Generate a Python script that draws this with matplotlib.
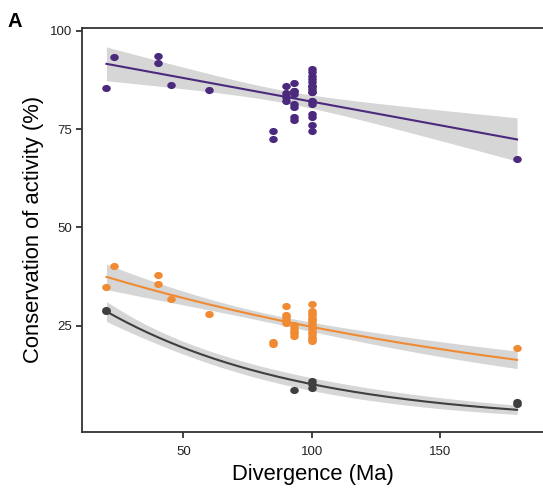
import numpy as np
import matplotlib
matplotlib.use("Agg")
import matplotlib.pyplot as plt
from matplotlib.path import Path

plt.rcParams["font.family"] = ["Liberation Sans", "DejaVu Sans"]

# purple group (linear fit)
purple_x = [20, 23, 40, 40, 45, 60, 85, 85,
            90, 90, 90, 90,
            93, 93, 93, 93, 93, 93, 93, 93,
            100, 100, 100, 100, 100, 100, 100, 100, 100, 100, 100, 100, 100, 100,
            100, 100, 100,
            180]
purple_y = [85.5, 93.4, 93.7, 91.9, 86.3, 85.0, 74.6, 72.5,
            86.0, 84.1, 83.1, 82.2,
            86.7, 84.7, 84.7, 83.9, 81.4, 80.7, 78.0, 77.3,
            90.3, 89.4, 88.6, 87.7, 86.9, 86.0, 85.2, 84.3, 82.2, 81.4, 78.8, 78.1, 76.1, 74.4,
            86.0, 84.3, 82.2,
            67.4]

# orange group (exponential fit)
orange_x = [20, 23, 40, 40, 45, 60, 85, 85,
            90, 90, 90, 90, 90,
            93, 93, 93, 93, 93,
            100, 100, 100, 100, 100, 100, 100, 100, 100, 100, 100, 100, 100, 100, 100,
            180]
orange_y = [34.7, 40.1, 37.9, 35.5, 31.8, 28.0, 20.8, 20.3,
            29.9, 27.8, 27.1, 26.3, 25.6,
            25.2, 24.4, 23.6, 23.0, 22.4,
            30.4, 28.8, 28.2, 27.6, 27.0, 26.4, 25.8, 25.2, 24.6, 24.0, 23.4, 22.8, 22.2, 21.6, 21.2,
            19.2]

# grey group (exponential fit)
grey_x = [20, 20, 93, 100, 100, 100, 180, 180]
grey_y = [29.0, 28.7, 8.7, 10.8, 10.2, 9.2, 5.6, 5.0]

x_ticks = [50, 100, 150]
y_ticks = [25, 50, 75, 100]

purple = "#4b2a7d"
orange = "#f08a33"
grey = "#3f3f3f"
ribbon = "#d6d6d6"


def t_quantile(df, z=1.959964):
    # Cornish-Fisher expansion of the 97.5% t quantile
    return (z + (z**3 + z) / (4 * df)
            + (5 * z**5 + 16 * z**3 + 3 * z) / (96 * df**2)
            + (3 * z**7 + 19 * z**5 + 17 * z**3 - 15 * z) / (384 * df**3))


def linear_fit(x, y, grid):
    x = np.asarray(x, float)
    y = np.asarray(y, float)
    X = np.column_stack([np.ones_like(x), x])
    beta, *_ = np.linalg.lstsq(X, y, rcond=None)
    resid = y - X @ beta
    df = len(x) - 2
    s2 = resid @ resid / df
    cov = s2 * np.linalg.inv(X.T @ X)
    G = np.column_stack([np.ones_like(grid), grid])
    fit = G @ beta
    se = np.sqrt(np.einsum("ij,jk,ik->i", G, cov, G))
    t = t_quantile(df)
    return fit, fit - t * se, fit + t * se


def exp_fit(x, y, grid):
    # nonlinear least squares for y = a * exp(b * x)
    x = np.asarray(x, float)
    y = np.asarray(y, float)
    b, la = np.polyfit(x, np.log(y), 1)
    a = np.exp(la)
    for _ in range(100):
        f = a * np.exp(b * x)
        J = np.column_stack([np.exp(b * x), a * x * np.exp(b * x)])
        step, *_ = np.linalg.lstsq(J, y - f, rcond=None)
        a += step[0]
        b += step[1]
        if np.max(np.abs(step)) < 1e-10:
            break
    f = a * np.exp(b * x)
    J = np.column_stack([np.exp(b * x), a * x * np.exp(b * x)])
    df = len(x) - 2
    s2 = np.sum((y - f) ** 2) / df
    cov = s2 * np.linalg.inv(J.T @ J)
    G = np.column_stack([np.exp(b * grid), a * grid * np.exp(b * grid)])
    fit = a * np.exp(b * grid)
    se = np.sqrt(np.einsum("ij,jk,ik->i", G, cov, G))
    t = t_quantile(df)
    return fit, fit - t * se, fit + t * se


# slightly wide dot, as in the reference
circle = Path.unit_circle()
dot = Path(circle.vertices * np.array([1.2, 1.0]), circle.codes)

fig = plt.figure(figsize=(5.43, 4.9), dpi=100)
ax = fig.add_axes([82.3 / 543, 58.3 / 490, 1 - 82.3 / 543, 403.7 / 490])

groups = [(purple_x, purple_y, purple, linear_fit),
          (orange_x, orange_y, orange, exp_fit),
          (grey_x, grey_y, grey, exp_fit)]

for gx, gy, col, fitter in groups:
    grid = np.linspace(min(gx), max(gx), 200)
    fit, lo, hi = fitter(gx, gy, grid)
    ax.fill_between(grid, lo, hi, color=ribbon, lw=0, zorder=1)
    ax.scatter(gx, gy, s=38, marker=dot, color=col, lw=0, zorder=2)
    ax.plot(grid, fit, color=col, lw=1.5, zorder=3)

ax.set_xlim(10.6, 190.1)
ax.set_ylim(-2.0, 100.7)
ax.set_xticks(x_ticks)
ax.set_yticks(y_ticks)
ax.tick_params(axis="both", direction="out", length=4.5, width=1.2,
               labelsize=9.5, colors="#222222", pad=3)
ax.tick_params(axis="x", pad=6)

for side in ["left", "bottom", "top"]:
    ax.spines[side].set_linewidth(1.3)
    ax.spines[side].set_color("#333333")
ax.spines["right"].set_visible(False)

ax.set_xlabel("Divergence (Ma)", fontsize=15.8, labelpad=4)
ax.set_ylabel("Conservation of activity (%)", fontsize=15.8, labelpad=4)

fig.text(8 / 543, 1 - 12 / 490, "A", fontsize=14.5, fontweight="bold",
         va="top", ha="left")

fig.savefig("out.png", dpi=100)
